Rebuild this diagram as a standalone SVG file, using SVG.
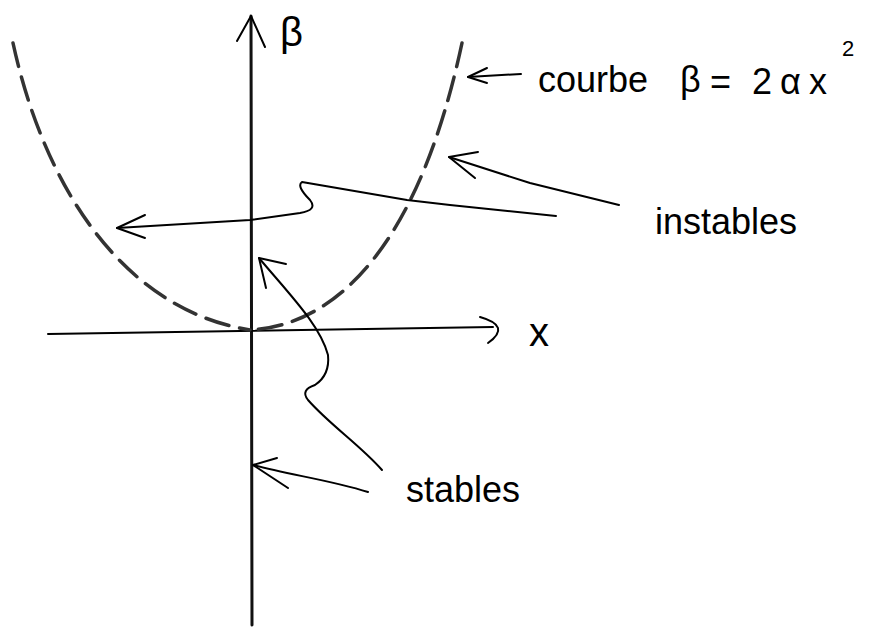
<svg xmlns="http://www.w3.org/2000/svg" width="870" height="628" viewBox="0 0 870 628">
<style>
.ln{fill:none;stroke:#000;stroke-width:2;stroke-linecap:round;stroke-linejoin:round}
.ax{fill:none;stroke:#111;stroke-width:3;stroke-linecap:round}
.cv{fill:none;stroke:#333;stroke-width:3.5;stroke-dasharray:24 11;stroke-linecap:round}
.t{font-family:"Liberation Sans",Arial,sans-serif;font-size:36px;fill:#000}
</style>
<rect width="870" height="628" fill="#fff"/>
<g id="axes">
  <path class="ax" d="M251 16 L252 625"/>
  <path class="ln" d="M237 41 L251 16 L265 47"/>
  <path class="ln" d="M48 334 L493 327"/>
  <path class="ln" d="M480 317 Q512 326 488 343"/>
</g>
<g id="curve">
  <path class="cv" d="M13 43 C45 190 125 310 250 330"/>
  <path class="cv" d="M462 43 C420 240 340 325 250 330"/>
</g>
<g id="labels">
  <text class="t" x="280" y="46" font-size="40" style="font-size:40px">β</text>
  <text class="t" x="529" y="346" style="font-size:40px">x</text>
</g>
<g id="courbe">
  <text class="t" x="538" y="92">courbe</text>
  <text class="t" x="680" y="92">β</text>
  <text class="t" x="710" y="94">=</text>
  <text class="t" x="752" y="94">2</text>
  <text class="t" x="780" y="94">α</text>
  <text class="t" x="809" y="94">x</text>
  <text class="t" x="842" y="56" style="font-size:22px">2</text>
</g>
<g id="instables">
  <text class="t" x="655" y="234">instables</text>
</g>
<g id="stables">
  <text class="t" x="406" y="502">stables</text>
</g>
<g id="connectors">
  <path class="ln" d="M468 77 L521 74"/>
  <path class="ln" d="M487 68 L468 77 L487 83"/>
  <path class="ln" d="M556 216 L450 205 L407 200 L302 182 Q296 186 310 200 Q318 210 300 213 L250 220 L117 228"/>
  <path class="ln" d="M145 215 L117 228 L145 238"/>
  <path class="ln" d="M619 205 L530 183 L449 157"/>
  <path class="ln" d="M478 152 L449 157 L475 178"/>
  <path class="ln" d="M382 470 C360 445 330 425 308 400 Q300 390 315 385 Q330 375 328 355 C320 325 290 295 259 258"/>
  <path class="ln" d="M286 264 L259 258 L266 288"/>
  <path class="ln" d="M368 492 C330 480 290 475 253 465"/>
  <path class="ln" d="M277 458 L253 465 L288 488"/>
</g>
</svg>
